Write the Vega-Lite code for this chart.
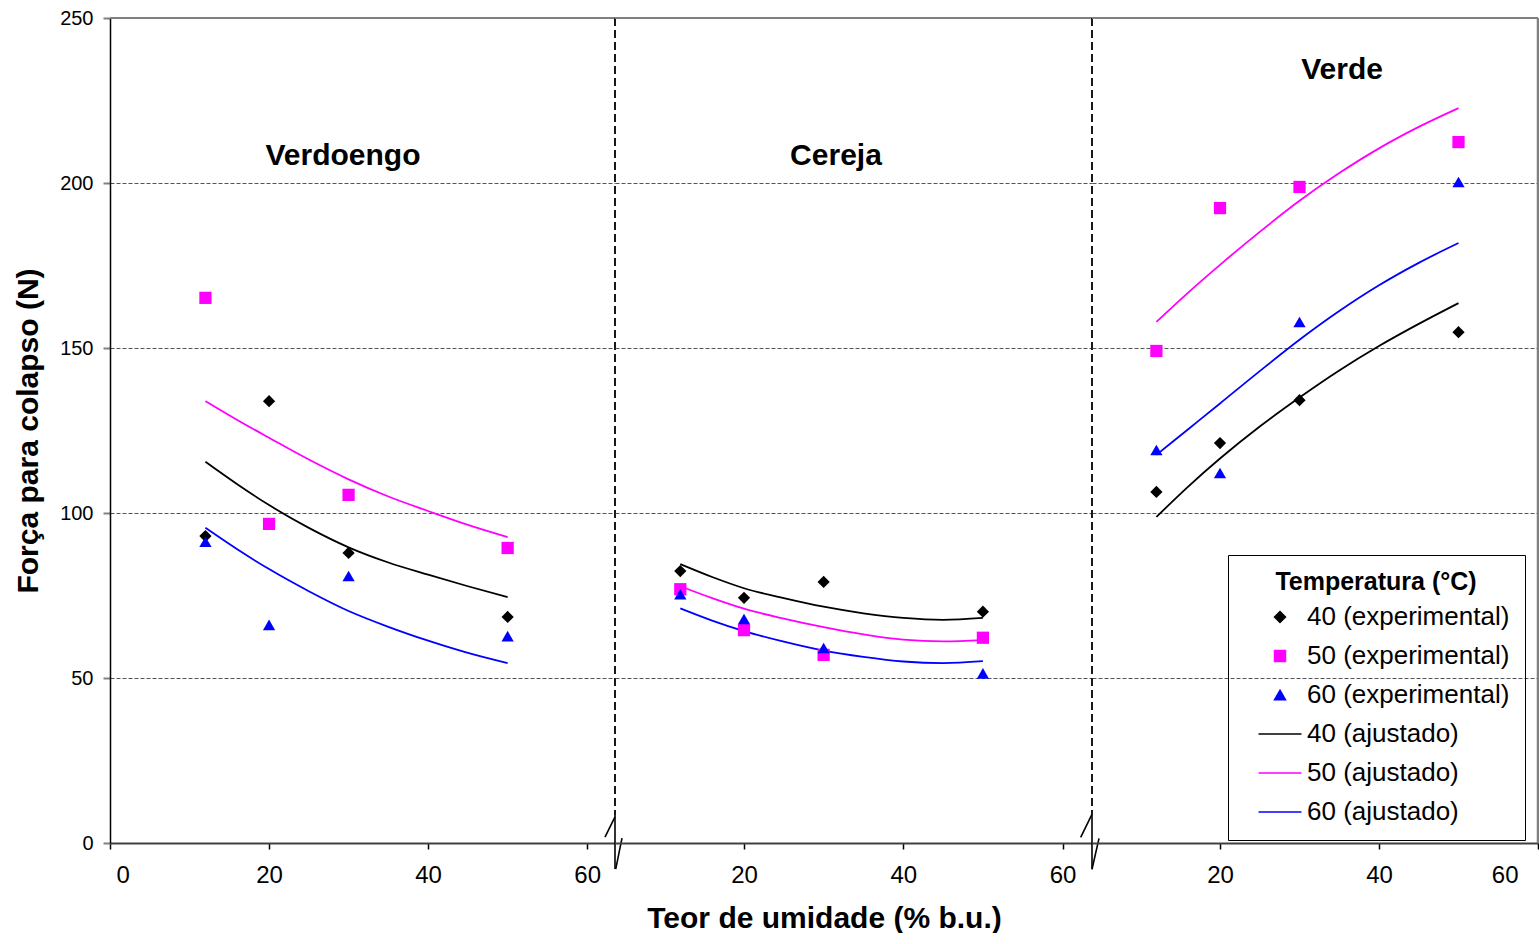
{
  "$schema": "https://vega.github.io/schema/vega-lite/v6.json",
  "autosize": {"type": "pad"},
  "padding": {"left": 13, "top": 8, "right": 0, "bottom": 0},
  "background": "white",
  "datasets": {
    "exp": [
      {"estadio": "Verdoengo", "umidade": 12, "forca": 93.0, "serie": "40 (experimental)"},
      {"estadio": "Verdoengo", "umidade": 20, "forca": 133.9, "serie": "40 (experimental)"},
      {"estadio": "Verdoengo", "umidade": 30, "forca": 87.9, "serie": "40 (experimental)"},
      {"estadio": "Verdoengo", "umidade": 50, "forca": 68.5, "serie": "40 (experimental)"},
      {"estadio": "Cereja", "umidade": 12, "forca": 82.4, "serie": "40 (experimental)"},
      {"estadio": "Cereja", "umidade": 20, "forca": 74.3, "serie": "40 (experimental)"},
      {"estadio": "Cereja", "umidade": 30, "forca": 79.1, "serie": "40 (experimental)"},
      {"estadio": "Cereja", "umidade": 50, "forca": 70.1, "serie": "40 (experimental)"},
      {"estadio": "Verde", "umidade": 12, "forca": 106.4, "serie": "40 (experimental)"},
      {"estadio": "Verde", "umidade": 20, "forca": 121.2, "serie": "40 (experimental)"},
      {"estadio": "Verde", "umidade": 30, "forca": 134.2, "serie": "40 (experimental)"},
      {"estadio": "Verde", "umidade": 50, "forca": 154.8, "serie": "40 (experimental)"},
      {"estadio": "Verdoengo", "umidade": 12, "forca": 165.2, "serie": "50 (experimental)"},
      {"estadio": "Verdoengo", "umidade": 20, "forca": 96.7, "serie": "50 (experimental)"},
      {"estadio": "Verdoengo", "umidade": 30, "forca": 105.5, "serie": "50 (experimental)"},
      {"estadio": "Verdoengo", "umidade": 50, "forca": 89.4, "serie": "50 (experimental)"},
      {"estadio": "Cereja", "umidade": 12, "forca": 76.9, "serie": "50 (experimental)"},
      {"estadio": "Cereja", "umidade": 20, "forca": 64.5, "serie": "50 (experimental)"},
      {"estadio": "Cereja", "umidade": 30, "forca": 57.0, "serie": "50 (experimental)"},
      {"estadio": "Cereja", "umidade": 50, "forca": 62.2, "serie": "50 (experimental)"},
      {"estadio": "Verde", "umidade": 12, "forca": 149.1, "serie": "50 (experimental)"},
      {"estadio": "Verde", "umidade": 20, "forca": 192.4, "serie": "50 (experimental)"},
      {"estadio": "Verde", "umidade": 30, "forca": 198.8, "serie": "50 (experimental)"},
      {"estadio": "Verde", "umidade": 50, "forca": 212.4, "serie": "50 (experimental)"},
      {"estadio": "Verdoengo", "umidade": 12, "forca": 91.3, "serie": "60 (experimental)"},
      {"estadio": "Verdoengo", "umidade": 20, "forca": 66.1, "serie": "60 (experimental)"},
      {"estadio": "Verdoengo", "umidade": 30, "forca": 80.9, "serie": "60 (experimental)"},
      {"estadio": "Verdoengo", "umidade": 50, "forca": 62.7, "serie": "60 (experimental)"},
      {"estadio": "Cereja", "umidade": 12, "forca": 75.4, "serie": "60 (experimental)"},
      {"estadio": "Cereja", "umidade": 20, "forca": 67.9, "serie": "60 (experimental)"},
      {"estadio": "Cereja", "umidade": 30, "forca": 59.1, "serie": "60 (experimental)"},
      {"estadio": "Cereja", "umidade": 50, "forca": 51.4, "serie": "60 (experimental)"},
      {"estadio": "Verde", "umidade": 12, "forca": 119.1, "serie": "60 (experimental)"},
      {"estadio": "Verde", "umidade": 20, "forca": 112.1, "serie": "60 (experimental)"},
      {"estadio": "Verde", "umidade": 30, "forca": 157.9, "serie": "60 (experimental)"},
      {"estadio": "Verde", "umidade": 50, "forca": 200.3, "serie": "60 (experimental)"}
    ],
    "ajuste": [
      {"estadio": "Verdoengo", "serie": "40 (ajustado)", "umidade": 12, "forca": 115.5},
      {"estadio": "Verdoengo", "serie": "40 (ajustado)", "umidade": 16, "forca": 108.7},
      {"estadio": "Verdoengo", "serie": "40 (ajustado)", "umidade": 20, "forca": 102.4},
      {"estadio": "Verdoengo", "serie": "40 (ajustado)", "umidade": 25, "forca": 95.5},
      {"estadio": "Verdoengo", "serie": "40 (ajustado)", "umidade": 30, "forca": 89.6},
      {"estadio": "Verdoengo", "serie": "40 (ajustado)", "umidade": 35, "forca": 85.0},
      {"estadio": "Verdoengo", "serie": "40 (ajustado)", "umidade": 40, "forca": 81.3},
      {"estadio": "Verdoengo", "serie": "40 (ajustado)", "umidade": 45, "forca": 77.8},
      {"estadio": "Verdoengo", "serie": "40 (ajustado)", "umidade": 50, "forca": 74.5},
      {"estadio": "Verdoengo", "serie": "50 (ajustado)", "umidade": 12, "forca": 133.9},
      {"estadio": "Verdoengo", "serie": "50 (ajustado)", "umidade": 16, "forca": 128.2},
      {"estadio": "Verdoengo", "serie": "50 (ajustado)", "umidade": 20, "forca": 122.8},
      {"estadio": "Verdoengo", "serie": "50 (ajustado)", "umidade": 25, "forca": 116.2},
      {"estadio": "Verdoengo", "serie": "50 (ajustado)", "umidade": 30, "forca": 110.2},
      {"estadio": "Verdoengo", "serie": "50 (ajustado)", "umidade": 35, "forca": 105.0},
      {"estadio": "Verdoengo", "serie": "50 (ajustado)", "umidade": 40, "forca": 100.6},
      {"estadio": "Verdoengo", "serie": "50 (ajustado)", "umidade": 45, "forca": 96.4},
      {"estadio": "Verdoengo", "serie": "50 (ajustado)", "umidade": 50, "forca": 92.7},
      {"estadio": "Verdoengo", "serie": "60 (ajustado)", "umidade": 12, "forca": 95.5},
      {"estadio": "Verdoengo", "serie": "60 (ajustado)", "umidade": 16, "forca": 89.0},
      {"estadio": "Verdoengo", "serie": "60 (ajustado)", "umidade": 20, "forca": 83.0},
      {"estadio": "Verdoengo", "serie": "60 (ajustado)", "umidade": 25, "forca": 76.3},
      {"estadio": "Verdoengo", "serie": "60 (ajustado)", "umidade": 30, "forca": 70.3},
      {"estadio": "Verdoengo", "serie": "60 (ajustado)", "umidade": 35, "forca": 65.5},
      {"estadio": "Verdoengo", "serie": "60 (ajustado)", "umidade": 40, "forca": 61.3},
      {"estadio": "Verdoengo", "serie": "60 (ajustado)", "umidade": 45, "forca": 57.6},
      {"estadio": "Verdoengo", "serie": "60 (ajustado)", "umidade": 50, "forca": 54.5},
      {"estadio": "Cereja", "serie": "40 (ajustado)", "umidade": 12, "forca": 84.5},
      {"estadio": "Cereja", "serie": "40 (ajustado)", "umidade": 16, "forca": 80.6},
      {"estadio": "Cereja", "serie": "40 (ajustado)", "umidade": 20, "forca": 77.2},
      {"estadio": "Cereja", "serie": "40 (ajustado)", "umidade": 25, "forca": 74.2},
      {"estadio": "Cereja", "serie": "40 (ajustado)", "umidade": 30, "forca": 71.6},
      {"estadio": "Cereja", "serie": "40 (ajustado)", "umidade": 35, "forca": 69.6},
      {"estadio": "Cereja", "serie": "40 (ajustado)", "umidade": 40, "forca": 68.2},
      {"estadio": "Cereja", "serie": "40 (ajustado)", "umidade": 45, "forca": 67.6},
      {"estadio": "Cereja", "serie": "40 (ajustado)", "umidade": 50, "forca": 68.2},
      {"estadio": "Cereja", "serie": "50 (ajustado)", "umidade": 12, "forca": 77.8},
      {"estadio": "Cereja", "serie": "50 (ajustado)", "umidade": 16, "forca": 74.2},
      {"estadio": "Cereja", "serie": "50 (ajustado)", "umidade": 20, "forca": 71.0},
      {"estadio": "Cereja", "serie": "50 (ajustado)", "umidade": 25, "forca": 68.0},
      {"estadio": "Cereja", "serie": "50 (ajustado)", "umidade": 30, "forca": 65.4},
      {"estadio": "Cereja", "serie": "50 (ajustado)", "umidade": 35, "forca": 63.2},
      {"estadio": "Cereja", "serie": "50 (ajustado)", "umidade": 40, "forca": 61.6},
      {"estadio": "Cereja", "serie": "50 (ajustado)", "umidade": 45, "forca": 61.1},
      {"estadio": "Cereja", "serie": "50 (ajustado)", "umidade": 50, "forca": 61.5},
      {"estadio": "Cereja", "serie": "60 (ajustado)", "umidade": 12, "forca": 71.1},
      {"estadio": "Cereja", "serie": "60 (ajustado)", "umidade": 16, "forca": 67.4},
      {"estadio": "Cereja", "serie": "60 (ajustado)", "umidade": 20, "forca": 64.2},
      {"estadio": "Cereja", "serie": "60 (ajustado)", "umidade": 25, "forca": 61.0},
      {"estadio": "Cereja", "serie": "60 (ajustado)", "umidade": 30, "forca": 58.3},
      {"estadio": "Cereja", "serie": "60 (ajustado)", "umidade": 35, "forca": 56.4},
      {"estadio": "Cereja", "serie": "60 (ajustado)", "umidade": 40, "forca": 55.0},
      {"estadio": "Cereja", "serie": "60 (ajustado)", "umidade": 45, "forca": 54.5},
      {"estadio": "Cereja", "serie": "60 (ajustado)", "umidade": 50, "forca": 55.1},
      {"estadio": "Verde", "serie": "40 (ajustado)", "umidade": 12, "forca": 98.8},
      {"estadio": "Verde", "serie": "40 (ajustado)", "umidade": 16, "forca": 108.0},
      {"estadio": "Verde", "serie": "40 (ajustado)", "umidade": 20, "forca": 116.5},
      {"estadio": "Verde", "serie": "40 (ajustado)", "umidade": 25, "forca": 126.2},
      {"estadio": "Verde", "serie": "40 (ajustado)", "umidade": 30, "forca": 135.0},
      {"estadio": "Verde", "serie": "40 (ajustado)", "umidade": 35, "forca": 143.2},
      {"estadio": "Verde", "serie": "40 (ajustado)", "umidade": 40, "forca": 150.6},
      {"estadio": "Verde", "serie": "40 (ajustado)", "umidade": 45, "forca": 157.3},
      {"estadio": "Verde", "serie": "40 (ajustado)", "umidade": 50, "forca": 163.6},
      {"estadio": "Verde", "serie": "50 (ajustado)", "umidade": 12, "forca": 157.9},
      {"estadio": "Verde", "serie": "50 (ajustado)", "umidade": 16, "forca": 166.8},
      {"estadio": "Verde", "serie": "50 (ajustado)", "umidade": 20, "forca": 175.2},
      {"estadio": "Verde", "serie": "50 (ajustado)", "umidade": 25, "forca": 185.2},
      {"estadio": "Verde", "serie": "50 (ajustado)", "umidade": 30, "forca": 194.6},
      {"estadio": "Verde", "serie": "50 (ajustado)", "umidade": 35, "forca": 203.0},
      {"estadio": "Verde", "serie": "50 (ajustado)", "umidade": 40, "forca": 210.5},
      {"estadio": "Verde", "serie": "50 (ajustado)", "umidade": 45, "forca": 217.0},
      {"estadio": "Verde", "serie": "50 (ajustado)", "umidade": 50, "forca": 222.7},
      {"estadio": "Verde", "serie": "60 (ajustado)", "umidade": 12, "forca": 117.6},
      {"estadio": "Verde", "serie": "60 (ajustado)", "umidade": 16, "forca": 125.4},
      {"estadio": "Verde", "serie": "60 (ajustado)", "umidade": 20, "forca": 133.2},
      {"estadio": "Verde", "serie": "60 (ajustado)", "umidade": 25, "forca": 143.0},
      {"estadio": "Verde", "serie": "60 (ajustado)", "umidade": 30, "forca": 152.5},
      {"estadio": "Verde", "serie": "60 (ajustado)", "umidade": 35, "forca": 161.2},
      {"estadio": "Verde", "serie": "60 (ajustado)", "umidade": 40, "forca": 169.0},
      {"estadio": "Verde", "serie": "60 (ajustado)", "umidade": 45, "forca": 175.8},
      {"estadio": "Verde", "serie": "60 (ajustado)", "umidade": 50, "forca": 181.8}
    ],
    "rotulos": [
      {"estadio": "Verdoengo", "umidade": 29.3, "forca": 208.2, "texto": "Verdoengo"},
      {"estadio": "Cereja", "umidade": 31.55, "forca": 208.2, "texto": "Cereja"},
      {"estadio": "Verde", "umidade": 35.35, "forca": 234.2, "texto": "Verde"}
    ],
    "quebras": [
      {"estadio": "Verdoengo", "umidade": 62.24, "forca": 1.8, "umidade2": 63.5, "forca2": 7.9},
      {"estadio": "Verdoengo", "umidade": 63.59, "forca": -7.9, "umidade2": 64.38, "forca2": 1.5},
      {"estadio": "Verdoengo", "umidade": 63.5, "forca": 8.5, "umidade2": 63.5, "forca2": -7.9},
      {"estadio": "Cereja", "umidade": 62.28, "forca": 1.7, "umidade2": 63.66, "forca2": 8.5},
      {"estadio": "Cereja", "umidade": 63.7, "forca": -7.97, "umidade2": 64.58, "forca2": 1.4},
      {"estadio": "Cereja", "umidade": 63.7, "forca": 8.5, "umidade2": 63.7, "forca2": -7.97}
    ],
    "divisas": [
      {"estadio": "Verdoengo", "umidade": 63.5, "forca": 250, "forca2": 8.5},
      {"estadio": "Cereja", "umidade": 63.7, "forca": 250, "forca2": 8.5}
    ],
    "bordas": [
      {"estadio": "Verdoengo", "forca": 250},
      {"estadio": "Cereja", "forca": 250},
      {"estadio": "Verde", "forca": 250}
    ],
    "borda_direita": [
      {"estadio": "Verde", "umidade": 60}
    ]
  },
  "spacing": 0,
  "bounds": "flush",
  "resolve": {
    "scale": {"x": "independent", "y": "shared", "color": "shared", "shape": "shared"},
    "axis": {"x": "independent", "y": "independent"},
    "legend": {"color": "shared", "shape": "shared"}
  },
  "hconcat": [
    {
      "width": 505,
      "height": 825,
      "layer": [
        {
          "data": {"name": "bordas"},
          "transform": [{"filter": "datum.estadio === 'Verdoengo'"}],
          "mark": {"type": "rule", "color": "#808080", "strokeWidth": 2},
          "encoding": {"y": {"field": "forca", "type": "quantitative"}}
        },
        {
          "data": {"name": "divisas"},
          "transform": [{"filter": "datum.estadio === 'Verdoengo'"}],
          "mark": {"type": "rule", "color": "#000000", "strokeWidth": 1.8, "strokeDash": [8, 4]},
          "encoding": {"x": {"field": "umidade", "type": "quantitative"}, "y": {"field": "forca", "type": "quantitative"}, "y2": {"field": "forca2"}}
        },
        {
          "data": {"name": "quebras"},
          "transform": [{"filter": "datum.estadio === 'Verdoengo'"}],
          "mark": {"type": "rule", "color": "#000000", "strokeWidth": 1.6},
          "encoding": {
            "x": {"field": "umidade", "type": "quantitative"},
            "y": {"field": "forca", "type": "quantitative"},
            "x2": {"field": "umidade2"},
            "y2": {"field": "forca2"}
          }
        },
        {
          "data": {"name": "ajuste"},
          "transform": [{"filter": "datum.estadio === 'Verdoengo'"}],
          "mark": {"type": "line", "interpolate": "monotone", "strokeWidth": 1.8},
          "encoding": {
            "x": {
              "field": "umidade", "type": "quantitative",
              "scale": {"domain": [0, 63.5], "zero": false, "nice": false},
              "axis": {"values": [0, 20, 40, 60], "title": null, "grid": false, "labelFontSize": 24, "labelPadding": 14, "labelFlushOffset": -6, "tickSize": 6, "tickColor": "#000000", "tickWidth": 1.5, "domainColor": "#404040", "domainWidth": 2}
            },
            "y": {
              "field": "forca", "type": "quantitative",
              "scale": {"domain": [0, 250], "zero": false, "nice": false},
              "axis": {"values": [0, 50, 100, 150, 200, 250], "title": "Força para colapso (N)", "titleFontSize": 30, "titleFontWeight": "bold", "titleX": -82, "titleY": 412.5, "titleBaseline": "middle", "titleAlign": "center", "labelFontSize": 20, "labelPadding": 10, "labelFlush": false, "tickSize": 7, "tickColor": "#808080", "tickWidth": 2, "domainColor": "#000000", "domainWidth": 1.5, "grid": true, "gridColor": "#555555", "gridDash": [4, 2], "gridWidth": 1}
            },
            "color": {
              "field": "serie", "type": "nominal",
              "scale": {"domain": ["40 (experimental)", "50 (experimental)", "60 (experimental)", "40 (ajustado)", "50 (ajustado)", "60 (ajustado)"], "range": ["#000000", "#ff00ff", "#0000ff", "#000000", "#ff00ff", "#0000ff"]},
              "legend": {"title": "Temperatura (°C)", "orient": "none", "legendX": 1118, "legendY": 537, "strokeColor": "#000000", "padding": 15, "titleFontSize": 25, "titleFontWeight": "bold", "titleAnchor": "middle", "titlePadding": 9, "titleLimit": 600, "labelFontSize": 26, "labelLimit": 600, "symbolSize": 120, "symbolStrokeWidth": 1.5, "symbolOffset": 24, "labelOffset": 14, "rowPadding": 13}
            }
          }
        },
        {
          "data": {"name": "exp"},
          "transform": [{"filter": "datum.estadio === 'Verdoengo'"}],
          "mark": {"type": "point", "filled": true, "opacity": 1, "size": 150},
          "encoding": {
            "x": {"field": "umidade", "type": "quantitative"},
            "y": {"field": "forca", "type": "quantitative"},
            "color": {
              "field": "serie", "type": "nominal",
              "scale": {"domain": ["40 (experimental)", "50 (experimental)", "60 (experimental)", "40 (ajustado)", "50 (ajustado)", "60 (ajustado)"], "range": ["#000000", "#ff00ff", "#0000ff", "#000000", "#ff00ff", "#0000ff"]},
              "legend": {"title": "Temperatura (°C)"}
            },
            "shape": {
              "field": "serie", "type": "nominal",
              "scale": {"domain": ["40 (experimental)", "50 (experimental)", "60 (experimental)", "40 (ajustado)", "50 (ajustado)", "60 (ajustado)"], "range": ["diamond", "square", "triangle-up", "M-3.92,0L3.92,0", "M-3.92,0L3.92,0", "M-3.92,0L3.92,0"]},
              "legend": {"title": "Temperatura (°C)"}
            }
          }
        },
        {
          "data": {"name": "rotulos"},
          "transform": [{"filter": "datum.estadio === 'Verdoengo'"}],
          "mark": {"type": "text", "font": "Liberation Sans", "fontSize": 30, "fontWeight": "bold", "align": "center", "baseline": "middle", "color": "#000000"},
          "encoding": {
            "x": {"field": "umidade", "type": "quantitative"},
            "y": {"field": "forca", "type": "quantitative"},
            "text": {"field": "texto"}
          }
        }
      ]
    },
    {
      "width": 477,
      "height": 825,
      "layer": [
        {
          "data": {"name": "bordas"},
          "transform": [{"filter": "datum.estadio === 'Cereja'"}],
          "mark": {"type": "rule", "color": "#808080", "strokeWidth": 2},
          "encoding": {"y": {"field": "forca", "type": "quantitative"}}
        },
        {
          "data": {"name": "divisas"},
          "transform": [{"filter": "datum.estadio === 'Cereja'"}],
          "mark": {"type": "rule", "color": "#000000", "strokeWidth": 1.8, "strokeDash": [8, 4]},
          "encoding": {"x": {"field": "umidade", "type": "quantitative"}, "y": {"field": "forca", "type": "quantitative"}, "y2": {"field": "forca2"}}
        },
        {
          "data": {"name": "quebras"},
          "transform": [{"filter": "datum.estadio === 'Cereja'"}],
          "mark": {"type": "rule", "color": "#000000", "strokeWidth": 1.6},
          "encoding": {
            "x": {"field": "umidade", "type": "quantitative"},
            "y": {"field": "forca", "type": "quantitative"},
            "x2": {"field": "umidade2"},
            "y2": {"field": "forca2"}
          }
        },
        {
          "data": {"name": "ajuste"},
          "transform": [{"filter": "datum.estadio === 'Cereja'"}],
          "mark": {"type": "line", "interpolate": "monotone", "strokeWidth": 1.8},
          "encoding": {
            "x": {
              "field": "umidade", "type": "quantitative",
              "scale": {"domain": [3.8, 63.7], "zero": false, "nice": false},
              "axis": {"values": [20, 40, 60], "title": "Teor de umidade (% b.u.)", "titleFontSize": 30, "titleFontWeight": "bold", "titleX": 209, "titleY": 75, "titleBaseline": "middle", "titleAlign": "center", "grid": false, "labelFontSize": 24, "labelPadding": 14, "tickSize": 6, "tickColor": "#000000", "tickWidth": 1.5, "domainColor": "#404040", "domainWidth": 2}
            },
            "y": {
              "field": "forca", "type": "quantitative",
              "scale": {"domain": [0, 250], "zero": false, "nice": false},
              "axis": {"values": [0, 50, 100, 150, 200, 250], "title": null, "labels": false, "ticks": false, "domain": false, "grid": true, "gridColor": "#555555", "gridDash": [4, 2], "gridWidth": 1}
            },
            "color": {
              "field": "serie", "type": "nominal",
              "scale": {"domain": ["40 (experimental)", "50 (experimental)", "60 (experimental)", "40 (ajustado)", "50 (ajustado)", "60 (ajustado)"], "range": ["#000000", "#ff00ff", "#0000ff", "#000000", "#ff00ff", "#0000ff"]},
              "legend": {"title": "Temperatura (°C)"}
            }
          }
        },
        {
          "data": {"name": "exp"},
          "transform": [{"filter": "datum.estadio === 'Cereja'"}],
          "mark": {"type": "point", "filled": true, "opacity": 1, "size": 150},
          "encoding": {
            "x": {"field": "umidade", "type": "quantitative"},
            "y": {"field": "forca", "type": "quantitative"},
            "color": {
              "field": "serie", "type": "nominal",
              "scale": {"domain": ["40 (experimental)", "50 (experimental)", "60 (experimental)", "40 (ajustado)", "50 (ajustado)", "60 (ajustado)"], "range": ["#000000", "#ff00ff", "#0000ff", "#000000", "#ff00ff", "#0000ff"]},
              "legend": {"title": "Temperatura (°C)"}
            },
            "shape": {
              "field": "serie", "type": "nominal",
              "scale": {"domain": ["40 (experimental)", "50 (experimental)", "60 (experimental)", "40 (ajustado)", "50 (ajustado)", "60 (ajustado)"], "range": ["diamond", "square", "triangle-up", "M-3.92,0L3.92,0", "M-3.92,0L3.92,0", "M-3.92,0L3.92,0"]},
              "legend": {"title": "Temperatura (°C)"}
            }
          }
        },
        {
          "data": {"name": "rotulos"},
          "transform": [{"filter": "datum.estadio === 'Cereja'"}],
          "mark": {"type": "text", "font": "Liberation Sans", "fontSize": 30, "fontWeight": "bold", "align": "center", "baseline": "middle", "color": "#000000"},
          "encoding": {
            "x": {"field": "umidade", "type": "quantitative"},
            "y": {"field": "forca", "type": "quantitative"},
            "text": {"field": "texto"}
          }
        }
      ]
    },
    {
      "width": 446,
      "height": 825,
      "layer": [
        {
          "data": {"name": "bordas"},
          "transform": [{"filter": "datum.estadio === 'Verde'"}],
          "mark": {"type": "rule", "color": "#808080", "strokeWidth": 2},
          "encoding": {"y": {"field": "forca", "type": "quantitative"}}
        },
        {
          "data": {"name": "borda_direita"},
          "mark": {"type": "rule", "color": "#808080", "strokeWidth": 2.5},
          "encoding": {"x": {"field": "umidade", "type": "quantitative"}}
        },
        {
          "data": {"name": "ajuste"},
          "transform": [{"filter": "datum.estadio === 'Verde'"}],
          "mark": {"type": "line", "interpolate": "monotone", "strokeWidth": 1.8},
          "encoding": {
            "x": {
              "field": "umidade", "type": "quantitative",
              "scale": {"domain": [3.9, 60], "zero": false, "nice": false},
              "axis": {"values": [20, 40, 60], "title": null, "grid": false, "labelFontSize": 24, "labelPadding": 14, "labelFlushOffset": -20, "tickSize": 6, "tickColor": "#000000", "tickWidth": 1.5, "domainColor": "#404040", "domainWidth": 2}
            },
            "y": {
              "field": "forca", "type": "quantitative",
              "scale": {"domain": [0, 250], "zero": false, "nice": false},
              "axis": {"values": [0, 50, 100, 150, 200, 250], "title": null, "labels": false, "ticks": false, "domain": false, "grid": true, "gridColor": "#555555", "gridDash": [4, 2], "gridWidth": 1}
            },
            "color": {
              "field": "serie", "type": "nominal",
              "scale": {"domain": ["40 (experimental)", "50 (experimental)", "60 (experimental)", "40 (ajustado)", "50 (ajustado)", "60 (ajustado)"], "range": ["#000000", "#ff00ff", "#0000ff", "#000000", "#ff00ff", "#0000ff"]},
              "legend": {"title": "Temperatura (°C)"}
            }
          }
        },
        {
          "data": {"name": "exp"},
          "transform": [{"filter": "datum.estadio === 'Verde'"}],
          "mark": {"type": "point", "filled": true, "opacity": 1, "size": 150},
          "encoding": {
            "x": {"field": "umidade", "type": "quantitative"},
            "y": {"field": "forca", "type": "quantitative"},
            "color": {
              "field": "serie", "type": "nominal",
              "scale": {"domain": ["40 (experimental)", "50 (experimental)", "60 (experimental)", "40 (ajustado)", "50 (ajustado)", "60 (ajustado)"], "range": ["#000000", "#ff00ff", "#0000ff", "#000000", "#ff00ff", "#0000ff"]},
              "legend": {"title": "Temperatura (°C)"}
            },
            "shape": {
              "field": "serie", "type": "nominal",
              "scale": {"domain": ["40 (experimental)", "50 (experimental)", "60 (experimental)", "40 (ajustado)", "50 (ajustado)", "60 (ajustado)"], "range": ["diamond", "square", "triangle-up", "M-3.92,0L3.92,0", "M-3.92,0L3.92,0", "M-3.92,0L3.92,0"]},
              "legend": {"title": "Temperatura (°C)"}
            }
          }
        },
        {
          "data": {"name": "rotulos"},
          "transform": [{"filter": "datum.estadio === 'Verde'"}],
          "mark": {"type": "text", "font": "Liberation Sans", "fontSize": 30, "fontWeight": "bold", "align": "center", "baseline": "middle", "color": "#000000"},
          "encoding": {
            "x": {"field": "umidade", "type": "quantitative"},
            "y": {"field": "forca", "type": "quantitative"},
            "text": {"field": "texto"}
          }
        }
      ]
    }
  ],
  "config": {
    "view": {"stroke": null},
    "font": "Liberation Sans",
    "axis": {"labelFont": "Liberation Sans", "titleFont": "Liberation Sans", "labelColor": "#000000", "titleColor": "#000000"},
    "legend": {"labelFont": "Liberation Sans", "titleFont": "Liberation Sans", "labelColor": "#000000", "titleColor": "#000000"}
  }
}
